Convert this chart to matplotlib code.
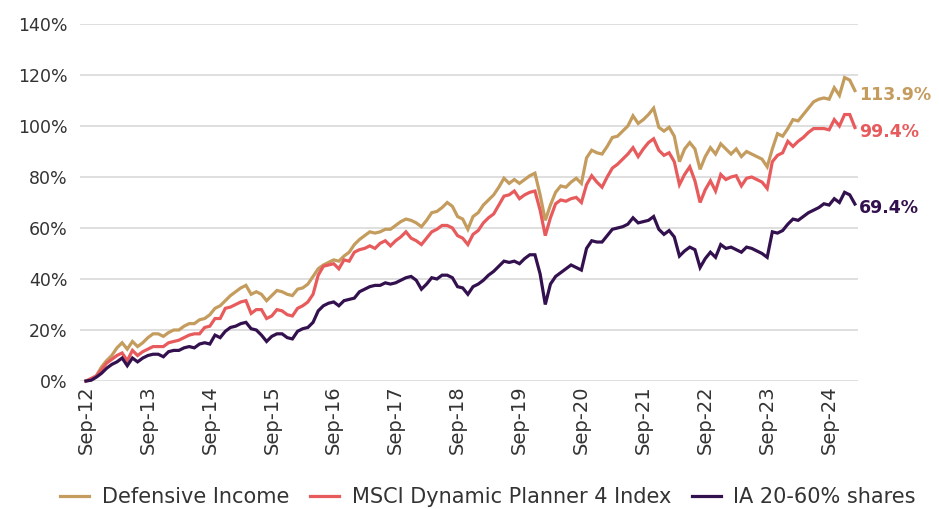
import matplotlib
matplotlib.use("Agg")
import matplotlib.pyplot as plt
import numpy as np

# Monthly cumulative performance (%), Sep-12 onwards
defensive_income = [
    0, 0.5, 2, 5.5, 8, 10, 13, 15, 12.5, 15.5, 13.5, 15, 17,
    18.5, 18.5, 17.5, 19, 20, 20, 21.5, 22.5, 22.5, 24, 24.5, 26,
    28.5, 29.5, 31.5, 33.5, 35, 36.5, 37.5, 34, 35, 34, 31.5, 33.5,
    35.5, 35, 34, 33.5, 36, 36.5, 38, 41, 44, 45.5, 46.5, 47.5,
    47, 49, 50.5, 53.5, 55.5, 57, 58.5, 58, 58.5, 59.5, 59.5, 61,
    62.5, 63.5, 63, 62, 60.5, 63, 66, 66.5, 68, 70, 68.5, 64.5,
    63.5, 59.5, 64.5, 66, 69, 71, 73, 76, 79.5, 77.5, 79, 77.5,
    79, 80.5, 81.5, 73, 63, 69, 74, 76.5, 76, 78, 79.5, 77.5,
    87.5, 90.5, 89.5, 89, 92, 95.5, 96, 98, 100, 104, 101, 102.5,
    104.5, 107, 99.5, 98, 99.5, 96, 86, 91, 93.5, 91, 83, 88,
    91.5, 89, 93, 91, 89, 91, 88, 90, 89, 88, 87, 84,
    91, 97, 96, 99, 102.5, 102, 104.5, 107, 109.5, 110.5, 111, 110.5,
    115, 112, 119, 118, 113.9,
]
msci_dp4 = [
    0, 1, 2, 4.5, 7, 8.5, 10, 11, 8, 12, 10, 11.5, 12.5,
    13.5, 13.5, 13.5, 15, 15.5, 16, 17, 18, 18.5, 18.5, 21, 21.5,
    24.5, 24.5, 28.5, 29, 30, 31, 31.5, 26.5, 28, 28, 24.5, 25.5,
    28, 27.5, 26, 25.5, 28.5, 29.5, 31, 34, 41.5, 45, 45.5, 46,
    44, 47.5, 47, 50.5, 51.5, 52, 53, 52, 54, 55, 53, 55,
    56.5, 58.5, 56, 55, 53.5, 56, 58.5, 59.5, 61, 61, 60, 57,
    56, 53.5, 57.5, 59, 62, 64, 65.5, 69, 72.5, 73, 74.5, 71.5,
    73, 74, 74.5, 67, 57, 64, 69.5, 71, 70.5, 71.5, 72, 70,
    77, 80.5, 78, 76, 80, 83.5, 85, 87, 89, 91.5, 88, 91,
    93.5, 95, 90.5, 88.5, 89.5, 86, 77, 81, 84, 78.5, 70, 75,
    78.5, 74.5, 81, 79, 80, 80.5, 76.5, 79.5, 80, 79, 78, 75.5,
    86, 88.5, 89.5, 94, 92, 94, 95.5, 97.5, 99, 99, 99, 98.5,
    102.5, 100, 104.5, 104.5, 99.4,
]
ia_20_60 = [
    0, 0.3, 1.5, 3, 5, 6.5, 7.5, 9, 6, 9, 7.5, 9, 10,
    10.5, 10.5, 9.5, 11.5, 12, 12, 13, 13.5, 13, 14.5, 15, 14.5,
    18, 17, 19.5, 21, 21.5, 22.5, 23, 20.5, 20, 18, 15.5, 17.5,
    18.5, 18.5, 17, 16.5, 19.5, 20.5, 21, 23, 27.5, 29.5, 30.5, 31,
    29.5, 31.5, 32, 32.5, 35, 36, 37, 37.5, 37.5, 38.5, 38, 38.5,
    39.5, 40.5, 41, 39.5, 36, 38, 40.5, 40, 41.5, 41.5, 40.5, 37,
    36.5, 34, 37, 38, 39.5, 41.5, 43, 45, 47, 46.5, 47, 46,
    48, 49.5, 49.5, 42, 30, 38, 41, 42.5, 44, 45.5, 44.5, 43.5,
    52, 55, 54.5, 54.5, 57, 59.5, 60, 60.5, 61.5, 64, 62, 62.5,
    63, 64.5, 59.5, 57.5, 59, 56.5, 49, 51, 52.5, 51.5, 44.5, 48,
    50.5, 48.5, 53.5, 52, 52.5, 51.5, 50.5, 52.5, 52, 51, 50, 48.5,
    58.5, 58, 59, 61.5, 63.5, 63, 64.5, 66, 67, 68, 69.5, 69,
    71.5, 70, 74, 73, 69.4,
]
series_names = ["Defensive Income", "MSCI Dynamic Planner 4 Index", "IA 20-60% shares"]
series_colors = ["#C49C5E", "#E85B5D", "#33114F"]
tick_labels = ["Sep-12", "Sep-13", "Sep-14", "Sep-15", "Sep-16", "Sep-17", "Sep-18",
               "Sep-19", "Sep-20", "Sep-21", "Sep-22", "Sep-23", "Sep-24"]
y_ticks = [0, 20, 40, 60, 80, 100, 120, 140]

plt.rcParams['font.family'] = ['DejaVu Sans']

fig = plt.figure(figsize=(9.39, 5.09), dpi=100)
ax = fig.add_axes([80/939, 1 - 381/509, (858 - 80)/939, (381 - 24)/509])

all_series = [defensive_income, msci_dp4, ia_20_60]
for vals, name, col in zip(all_series, series_names, series_colors):
    x = np.arange(len(vals))
    ax.plot(x, vals, color=col, lw=2.3, label=name, clip_on=False,
            solid_joinstyle='miter', zorder=3)
    ax.annotate(f"{vals[-1]:.1f}%", xy=(x[-1], vals[-1]), xytext=(3, -3),
                textcoords='offset points', va='center', ha='left',
                color=col, fontsize=12.5, fontweight='bold')

ax.set_xlim(-1.16, 149.6)
ax.set_ylim(0, 140)
ax.set_yticks(y_ticks)
ax.set_yticklabels([f"{v}%" for v in y_ticks])
ax.set_xticks(np.arange(0, 12 * len(tick_labels), 12))
ax.set_xticklabels(tick_labels, rotation=90)
ax.tick_params(axis='y', length=0, labelsize=12.5, colors='#333333', pad=9)
ax.tick_params(axis='x', length=0, labelsize=14, colors='#333333', pad=3)
ax.grid(axis='y', color='#D9D9D9', lw=1.2, zorder=0)
ax.set_axisbelow(True)
for s in ax.spines.values():
    s.set_visible(False)

fig.legend(loc='center', bbox_to_anchor=(488/939, 1 - 497/509), ncol=3, frameon=False,
           fontsize=15, handlelength=1.4, handletextpad=0.6, columnspacing=1.0,
           labelcolor='#333333', borderpad=0)

fig.savefig("out.png", dpi=100)
